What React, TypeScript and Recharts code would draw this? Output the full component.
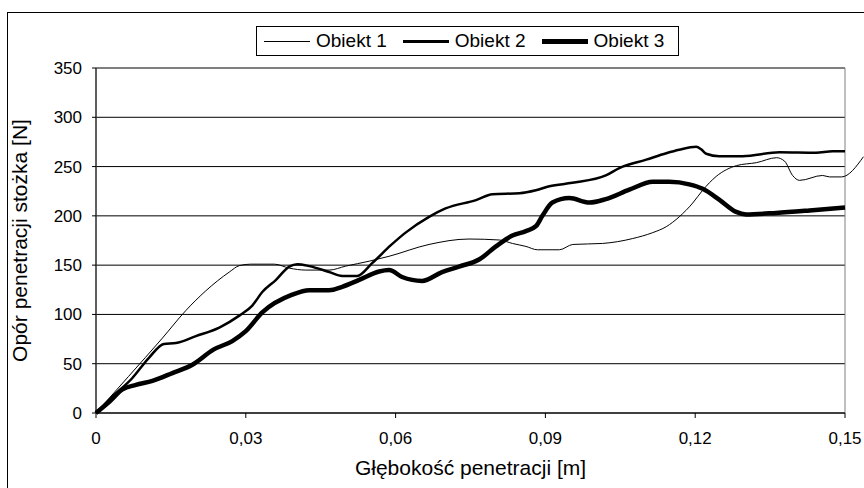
import { LineChart, Line, XAxis, YAxis, CartesianGrid, ReferenceArea, Label } from 'recharts'

const FONT = '"Liberation Sans", Arial, sans-serif'

// depth [m] and cone resistance [N] for each object
const depth1 = [0, 0.0065, 0.0133, 0.018, 0.022, 0.0267, 0.0287, 0.031, 0.0357, 0.0387, 0.042, 0.0467, 0.05, 0.0547, 0.0587, 0.0667, 0.0747, 0.0808, 0.0834, 0.0861, 0.0884, 0.0928, 0.0955, 0.1014, 0.1075, 0.1115, 0.1142, 0.1168, 0.1195, 0.1215, 0.1242, 0.1283, 0.1323, 0.1363, 0.1379, 0.1395, 0.1409, 0.1455, 0.1469, 0.1493, 0.1537]
const force1 = [0, 37, 76, 104, 124, 143, 149.5, 151, 151, 147, 145, 145, 149, 154, 159, 171, 176.5, 175.5, 172, 169, 165.6, 165.6, 171, 172, 177, 183, 189, 199, 213, 226, 240, 251, 254, 259, 255.5, 241, 236, 241, 239.5, 239.5, 260]

const depth2 = [0, 0.0036, 0.0072, 0.0106, 0.0136, 0.016, 0.02, 0.0247, 0.0287, 0.0313, 0.0333, 0.036, 0.0387, 0.0403, 0.0427, 0.0467, 0.0493, 0.0523, 0.0553, 0.059, 0.062, 0.0667, 0.07, 0.0761, 0.0794, 0.0848, 0.0881, 0.0908, 0.0954, 0.1021, 0.1048, 0.1102, 0.1142, 0.1168, 0.1202, 0.1212, 0.1222, 0.1248, 0.1295, 0.1369, 0.1442, 0.1475, 0.15]
const force2 = [0, 18, 35, 56, 70, 71, 78, 86.7, 98.8, 109, 122.7, 134.8, 148.5, 151, 149, 143, 139, 139, 152, 170, 183, 199, 207.5, 216, 222, 223, 226, 230, 233.5, 241, 248.5, 257, 263.5, 267, 270, 267.5, 263, 260.5, 260.5, 264.5, 264, 265.5, 265.5]

const depth3 = [0, 0.0026, 0.0053, 0.008, 0.0113, 0.0153, 0.0193, 0.0236, 0.0273, 0.03, 0.0333, 0.0393, 0.0427, 0.0467, 0.0493, 0.0527, 0.0567, 0.0587, 0.0613, 0.0653, 0.0693, 0.0727, 0.0768, 0.0801, 0.0834, 0.0861, 0.0881, 0.0894, 0.0914, 0.0948, 0.0988, 0.1021, 0.1068, 0.1115, 0.1148, 0.1188, 0.1215, 0.1248, 0.1282, 0.1302, 0.1362, 0.1429, 0.15]
const force3 = [0, 11, 24, 28.5, 32.6, 40.5, 49, 64.5, 73, 83, 102, 120, 124.5, 124.5, 128, 135, 143.5, 145, 138, 134, 143, 148.5, 156, 169, 180, 184.5, 189.5, 200, 213.5, 218, 213.5, 217, 226.5, 234.5, 234.5, 232, 227.5, 216.5, 204, 201.5, 203, 205.5, 208.5]

const xTicks = [0, 0.03, 0.06, 0.09, 0.12, 0.15]
const yTicks = [0, 50, 100, 150, 200, 250, 300, 350]

const series = [
  { name: 'Obiekt 1', depth: depth1, force: force1, width: 1, sample: 1 },
  { name: 'Obiekt 2', depth: depth2, force: force2, width: 2.5, sample: 3 },
  { name: 'Obiekt 3', depth: depth3, force: force3, width: 4.5, sample: 5 },
]

const fmtX = (v: number) => (v === 0 ? '0' : v.toFixed(2).replace('.', ','))

export default function App() {
  const lines = series.map((s) => ({
    ...s,
    data: s.depth.map((x, i) => ({ x, y: s.force[i] })),
  }))

  return (
    <div style={{ position: 'relative', width: 864, height: 488, overflow: 'hidden', background: '#fff', fontFamily: FONT }}>
      <style>{'body{margin:0} .recharts-line [clip-path], .recharts-line[clip-path]{clip-path:none}'}</style>
      <div style={{ position: 'absolute', left: 7, top: 12, width: 900, height: 500, border: '1px solid #000' }} />

      {/* legend box */}
      <div
        style={{
          position: 'absolute',
          left: 256,
          top: 26,
          width: 423,
          height: 30,
          border: '1px solid #000',
          display: 'flex',
          alignItems: 'center',
          paddingLeft: 7,
          boxSizing: 'border-box',
          fontSize: 19,
          color: '#000',
          zIndex: 2,
          background: '#fff',
          whiteSpace: 'nowrap',
        }}
      >
        {series.map((s) => (
          <div key={s.name} style={{ display: 'flex', alignItems: 'center', marginRight: 16, flexShrink: 0 }}>
            <div style={{ width: 46, height: s.sample, background: '#000', flexShrink: 0 }} />
            <span style={{ marginLeft: 6 }}>{s.name}</span>
          </div>
        ))}
      </div>

      <div style={{ position: 'absolute', left: 0, top: 0 }}>
        <LineChart width={864} height={488} margin={{ top: 68, right: 19, bottom: 0, left: 0 }}>
          <CartesianGrid vertical={false} stroke="#000" strokeWidth={1} />
          <ReferenceArea x1={0} x2={0.15} y1={0} y2={350} fill="none" stroke="#808080" strokeWidth={1} />
          <XAxis
            type="number"
            dataKey="x"
            domain={[0, 0.15]}
            allowDataOverflow
            ticks={xTicks}
            tickFormatter={fmtX}
            height={75}
            tickSize={5}
            tickMargin={14}
            stroke="#000"
            tick={{ fill: '#000', fontSize: 17, fontFamily: FONT }}
          >
            <Label value="Głębokość penetracji [m]" position="insideBottom" offset={13} style={{ fill: '#000', fontSize: 21, fontFamily: FONT }} />
          </XAxis>
          <YAxis
            type="number"
            domain={[0, 350]}
            ticks={yTicks}
            width={96}
            tickSize={4}
            tickMargin={10}
            stroke="#000"
            tick={{ fill: '#000', fontSize: 17, fontFamily: FONT }}
          >
            <Label
              value="Opór penetracji stożka [N]"
              angle={-90}
              position="insideLeft"
              offset={20}
              style={{ fill: '#000', fontSize: 21, fontFamily: FONT, textAnchor: 'middle' }}
            />
          </YAxis>
          {lines.map((s) => (
            <Line
              key={s.name}
              data={s.data}
              dataKey="y"
              name={s.name}
              type="monotone"
              stroke="#000"
              strokeWidth={s.width}
              dot={false}
              activeDot={false}
              isAnimationActive={false}
            />
          ))}
        </LineChart>
      </div>
    </div>
  )
}
